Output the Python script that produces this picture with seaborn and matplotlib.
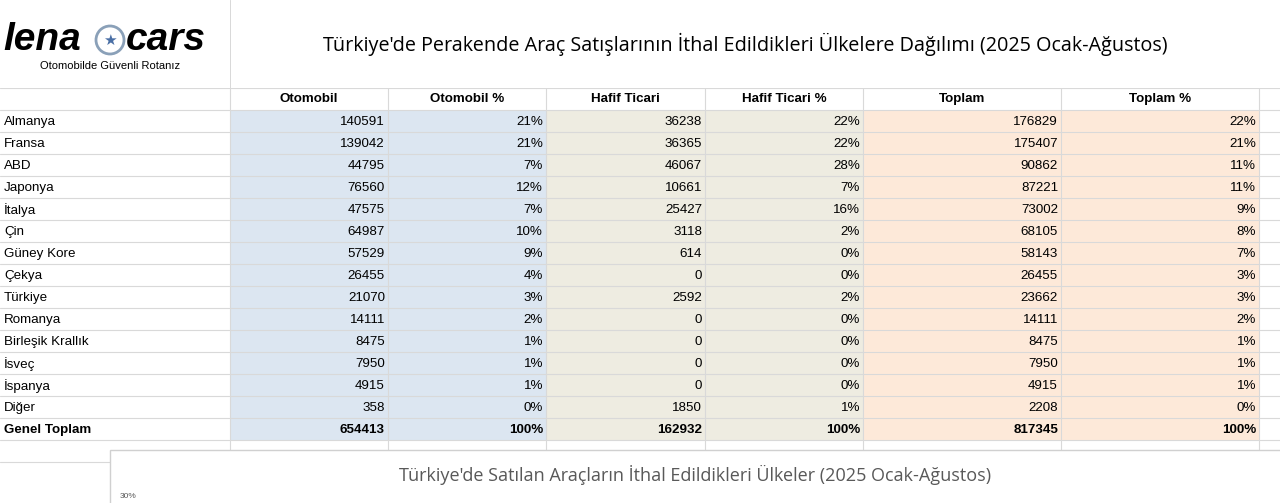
import matplotlib
matplotlib.use("Agg")
import matplotlib.pyplot as plt
import seaborn as sns
from matplotlib.patches import Rectangle, Circle

countries = ["Almanya","Fransa","ABD","Japonya","İtalya","Çin","Güney Kore","Çekya","Türkiye",
             "Romanya","Birleşik Krallık","İsveç","İspanya","Diğer"]
otomobil = [140591,139042,44795,76560,47575,64987,57529,26455,21070,14111,8475,7950,4915,358]
otomobil_pct = [21,21,7,12,7,10,9,4,3,2,1,1,1,0]
hafif = [36238,36365,46067,10661,25427,3118,614,0,2592,0,0,0,0,1850]
hafif_pct = [22,22,28,7,16,2,0,0,2,0,0,0,0,1]
toplam = [176829,175407,90862,87221,73002,68105,58143,26455,23662,14111,8475,7950,4915,2208]
toplam_pct = [22,21,11,11,9,8,7,3,3,2,1,1,1,0]
total_label = "Genel Toplam"
totals = [654413, 100, 162932, 100, 817345, 100]
headers = ["Otomobil","Otomobil %","Hafif Ticari","Hafif Ticari %","Toplam","Toplam %"]

sns.set_theme(style="white", font="Liberation Sans", rc={"text.color": "black"})
band_colors = ["#dce6f1", "#dce6f1", "#eeece1", "#eeece1", "#fde9d9", "#fde9d9"]

fig = plt.figure(figsize=(12.8, 5.03), dpi=100)
ax = fig.add_axes([0, 0, 1, 1])
ax.set_xlim(0, 1280); ax.set_ylim(503, 0); ax.axis("off")

edges = [0, 230, 388, 546, 705, 863, 1061, 1259, 1280]
rh = 22
y0 = 110
nrows = len(countries) + 1
grid = "#d9d9d9"

for j in range(6):
    ax.add_patch(Rectangle((edges[j+1], y0), edges[j+2]-edges[j+1], rh*nrows,
                           facecolor=band_colors[j], edgecolor="none", zorder=0))
for i in range(nrows + 3):
    y = 88 + i*rh
    xmax = 1280 if y < 450 else 110
    ax.plot([0, xmax], [y, y], color=grid, lw=0.8, zorder=1)
for x in edges[1:-1]:
    top = 0 if x == 230 else 88
    ax.plot([x, x], [top, 450], color=grid, lw=0.8, zorder=1)

fs = 9.6
for j, h in enumerate(headers):
    ax.text((edges[j+1]+edges[j+2])/2, 99, h, ha="center", va="center", fontsize=fs, fontweight="bold")

cols = [otomobil, otomobil_pct, hafif, hafif_pct, toplam, toplam_pct]
for i, c in enumerate(countries):
    yc = y0 + i*rh + rh/2 + 1
    ax.text(4, yc, c, ha="left", va="center", fontsize=fs)
    for j, col in enumerate(cols):
        s = f"{col[i]}%" if j % 2 else f"{col[i]}"
        ax.text(edges[j+2]-3, yc, s, ha="right", va="center", fontsize=fs)
yc = y0 + len(countries)*rh + rh/2 + 1
ax.text(4, yc, total_label, ha="left", va="center", fontsize=fs, fontweight="bold")
for j, v in enumerate(totals):
    s = f"{v}%" if j % 2 else f"{v}"
    ax.text(edges[j+2]-3, yc, s, ha="right", va="center", fontsize=fs, fontweight="bold")

ax.add_patch(Rectangle((0, 0), 229.5, 87.5, facecolor="white", edgecolor="none", zorder=1.5))
ax.add_patch(Rectangle((230.5, 0), 1049, 87.5, facecolor="white", edgecolor="none", zorder=1.5))
ax.text(745, 44, "Türkiye'de Perakende Araç Satışlarının İthal Edildikleri Ülkelere Dağılımı (2025 Ocak-Ağustos)",
        ha="center", va="center", fontsize=14.2, family="Open Sans", zorder=3)

ax.text(3, 40, "lena", ha="left", va="center", fontsize=28, fontweight="bold", style="italic", zorder=3)
ax.add_patch(Circle((110, 40), 14, facecolor="white", edgecolor="#8aa0b8", lw=2, zorder=3))
ax.text(110, 40, "★", ha="center", va="center", fontsize=11, color="#4a6fa5", zorder=4, family="DejaVu Sans")
ax.text(126, 40, "cars", ha="left", va="center", fontsize=28, fontweight="bold", style="italic", zorder=3)
ax.text(110, 66, "Otomobilde Güvenli Rotanız", ha="center", va="center", fontsize=8, zorder=3)

ax.add_patch(Rectangle((110, 450), 1180, 60, facecolor="white", edgecolor="#d0d0d0", lw=1, zorder=5))
ax.text(695, 475, "Türkiye'de Satılan Araçların İthal Edildikleri Ülkeler (2025 Ocak-Ağustos)",
        ha="center", va="center", fontsize=13, color="#595959", family="Open Sans", zorder=6)
ax.text(120, 497, "30%", ha="left", va="center", fontsize=6, color="#595959", zorder=6)

fig.savefig("out.png", dpi=100)
